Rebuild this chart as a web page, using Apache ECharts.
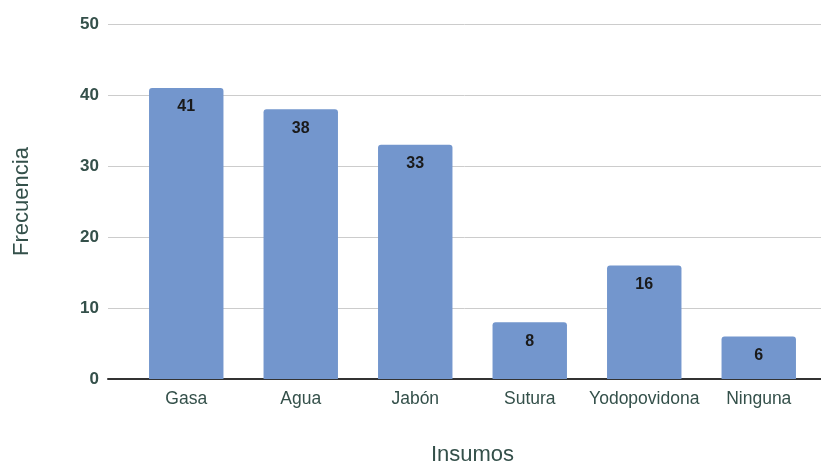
<!DOCTYPE html>
<html>
<head>
<meta charset="utf-8">
<script src="https://cdn.jsdelivr.net/npm/echarts@6/dist/echarts.min.js"></script>
<style>
  html, body { margin: 0; padding: 0; background: #fff; }
  #chart { width: 821px; height: 464px; }
</style>
</head>
<body>
<div id="chart"></div>
<script>
// Insumos utilizados y su frecuencia
const categories = ['Gasa', 'Agua', 'Jabón', 'Sutura', 'Yodopovidona', 'Ninguna'];
const frecuencia = [41, 38, 33, 8, 16, 6];
const yTicks = { min: 0, max: 50, interval: 10 };

const textColor = '#34504a';
const font = '"Liberation Sans", Arial, sans-serif';

const chart = echarts.init(document.getElementById('chart'), null, { renderer: 'canvas' });

chart.setOption({
  backgroundColor: '#ffffff',
  textStyle: { fontFamily: font },
  grid: [
    // full-width frame: gridlines, y labels and baseline
    { left: 108, right: 0, top: 24, bottom: 85, containLabel: false, outerBoundsMode: 'none' },
    // inner band where the categories sit
    { left: 129, right: 5, top: 24, bottom: 85, containLabel: false, outerBoundsMode: 'none' }
  ],
  xAxis: [
    {
      gridIndex: 0, type: 'value', min: 0, max: 1,
      axisLine: { show: true, lineStyle: { color: '#333333', width: 2 } },
      axisTick: { show: false }, axisLabel: { show: false }, splitLine: { show: false }
    },
    {
      gridIndex: 1, type: 'category', data: categories,
      axisLine: { show: false }, axisTick: { show: false },
      axisLabel: { color: textColor, fontSize: 17.5, margin: 11, interval: 0, fontFamily: font },
      name: 'Insumos', nameLocation: 'middle', nameGap: 65,
      nameTextStyle: { color: textColor, fontSize: 22, fontFamily: font }
    }
  ],
  yAxis: [
    {
      gridIndex: 0, type: 'value', min: yTicks.min, max: yTicks.max, interval: yTicks.interval,
      axisLine: { show: false }, axisTick: { show: false },
      axisLabel: { color: textColor, fontSize: 17, fontWeight: 'bold', margin: 9, fontFamily: font },
      splitLine: { show: true, lineStyle: { color: '#cccccc', width: 1 } },
      name: 'Frecuencia', nameLocation: 'middle', nameGap: 75,
      nameTextStyle: { color: textColor, fontSize: 22, fontFamily: font }
    },
    {
      gridIndex: 1, type: 'value', min: yTicks.min, max: yTicks.max, interval: yTicks.interval,
      show: false
    }
  ],
  series: [{
    type: 'bar',
    xAxisIndex: 1, yAxisIndex: 1,
    data: frecuencia,
    barCategoryGap: '35%',
    itemStyle: { color: '#7396cd', borderRadius: [3, 3, 0, 0] },
    label: {
      show: true, position: 'insideTop', distance: 11,
      color: '#1a1a1a', fontSize: 16, fontWeight: 'bold', fontFamily: font
    },
    animation: false
  }],
  animation: false
});
</script>
</body>
</html>
